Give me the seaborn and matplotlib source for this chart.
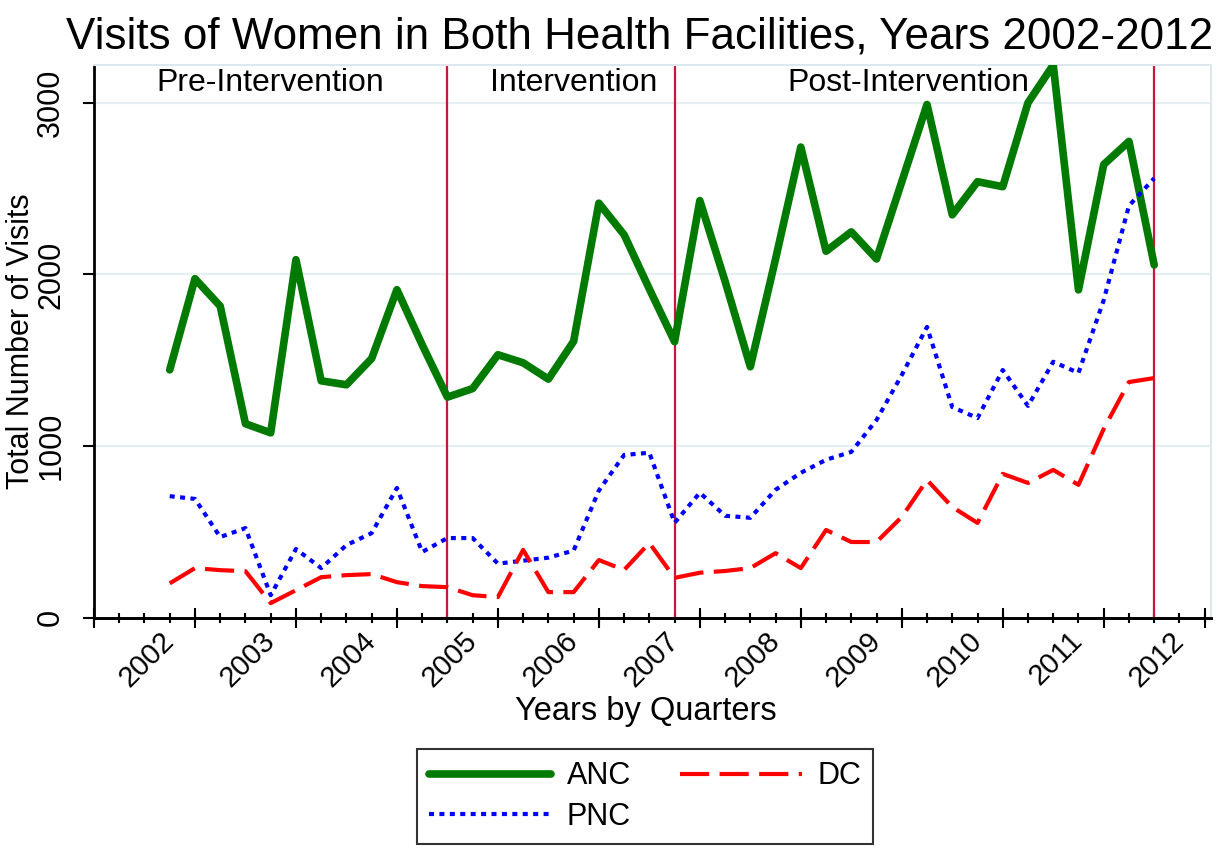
import numpy as np
import pandas as pd
import matplotlib
matplotlib.use("Agg")
import matplotlib.pyplot as plt
import seaborn as sns

# quarterly visits, 2002q1 .. 2011q4
anc = [1444, 1975, 1815, 1130, 1077, 2086, 1380, 1357, 1510, 1911,
       1590, 1285, 1335, 1532, 1485, 1390, 1610, 2415, 2231, 1915,
       1608, 2430, 1960, 1462, 2090, 2742, 2135, 2248, 2090, 2540,
       2990, 2347, 2540, 2511, 3000, 3220, 1910, 2640, 2775, 2055]
pnc = [708, 692, 470, 522, 131, 400, 289, 423, 493, 756,
       383, 464, 464, 315, 332, 350, 391, 741, 948, 961,
       553, 728, 594, 582, 745, 844, 920, 966, 1152, 1414,
       1694, 1227, 1163, 1443, 1234, 1491, 1426, 1850, 2400, 2560]
dc = [200, 289, 277, 271, 85, 160, 236, 248, 254, 207,
      184, 178, 131, 120, 395, 149, 149, 336, 278, 435,
      232, 262, 272, 289, 376, 289, 511, 441, 441, 587,
      802, 645, 552, 838, 785, 861, 774, 1100, 1373, 1396]

years = list(range(2002, 2013))
phases = ["Pre-Intervention", "Intervention", "Post-Intervention"]
phase_breaks = [11, 20, 39]     # quarter index of the vertical lines

quarter = np.arange(len(anc))
df = pd.DataFrame({"quarter": quarter, "ANC": anc, "PNC": pnc, "DC": dc})

sns.set_style("ticks")
plt.rcParams["font.family"] = ["Liberation Sans", "DejaVu Sans"]
plt.rcParams.update({"text.color": "black", "axes.labelcolor": "black",
                     "xtick.color": "black", "ytick.color": "black"})

fig = plt.figure(figsize=(12.22, 8.48), dpi=100)
ax = fig.add_axes([94 / 1222, 1 - 617.7 / 848, 1117 / 1222, 552.7 / 848])

for yv in [1000, 2000, 3000]:
    ax.axhline(yv, color="#E6EFF2", lw=1.6, zorder=0)

for b in phase_breaks:
    ax.axvline(b, color="#C8173C", lw=1.6, zorder=1)

sns.lineplot(data=df, x="quarter", y="ANC", ax=ax, color="#007A00",
             lw=5.5, label="ANC", zorder=3)
sns.lineplot(data=df, x="quarter", y="PNC", ax=ax, color="#0000FF",
             lw=3, label="PNC", zorder=3)
ax.lines[-1].set_dashes((1.2, 1.3))
sns.lineplot(data=df, x="quarter", y="DC", ax=ax, color="#FF0000",
             lw=3, label="DC", zorder=3)
ax.lines[-1].set_dashes((7, 2.5))

ax.set_xlim(-3, 41.25)
ax.set_ylim(0, 3220)

# phase labels
for txt, xpos in zip(phases, [4, 16, 29.25]):
    ax.text(xpos, 3071, txt, ha="center", va="baseline", fontsize=23)

# y axis
ax.set_yticks([0, 1000, 2000, 3000])
ax.set_yticklabels(["0", "1000", "2000", "3000"], rotation=90, va="center")
ax.tick_params(axis="y", length=8, width=1.5, pad=12, labelsize=22)

# x axis: year labels at first quarter, long ticks between
year_pos = [(y - 2002) * 4 for y in years]
ax.set_xticks(year_pos)
ax.set_xticklabels([str(y) for y in years], rotation=45, ha="right",
                   va="center", rotation_mode="anchor")
ax.set_xticks(np.arange(-3, 42), minor=True)
ax.tick_params(axis="x", which="both", length=7, width=1.5,
               direction="inout", pad=10, labelsize=21)
sec = ax.secondary_xaxis("bottom")
sec.set_xticks(np.arange(-3, 42, 4))
sec.set_xticklabels([])
sec.tick_params(length=14, width=1.5, direction="inout")
sec.spines["bottom"].set_linewidth(2)

for s in ["left", "bottom"]:
    ax.spines[s].set_linewidth(2)
    ax.spines[s].set_color("black")
for s in ["top", "right"]:
    ax.spines[s].set_color("#DDE8EE")
    ax.spines[s].set_linewidth(1.5)

ax.set_xlabel("Years by Quarters", fontsize=23.5)
ax.xaxis.set_label_coords(0.494, -0.142)
ax.set_ylabel("Total Number of Visits", fontsize=22)
ax.yaxis.set_label_coords(-0.052, 0.5)

ax.set_title("Visits of Women in Both Health Facilities, Years 2002-2012",
             fontsize=31.7, x=0.488, pad=12)

h, l = ax.get_legend_handles_labels()
order = [l.index("ANC"), l.index("PNC"), l.index("DC")]
leg = ax.legend([h[i] for i in order], [l[i] for i in order], ncol=2,
                loc="upper left", bbox_to_anchor=(417 / 1222, 1 - 749 / 848),
                bbox_transform=fig.transFigure, fontsize=22, frameon=True,
                fancybox=False, handlelength=4, handletextpad=0.5,
                columnspacing=1.6, labelspacing=0.35, borderpad=0.4,
                borderaxespad=0)
leg.get_frame().set_edgecolor("black")
leg.get_frame().set_linewidth(1.5)

fig.savefig("out.png", dpi=100)
